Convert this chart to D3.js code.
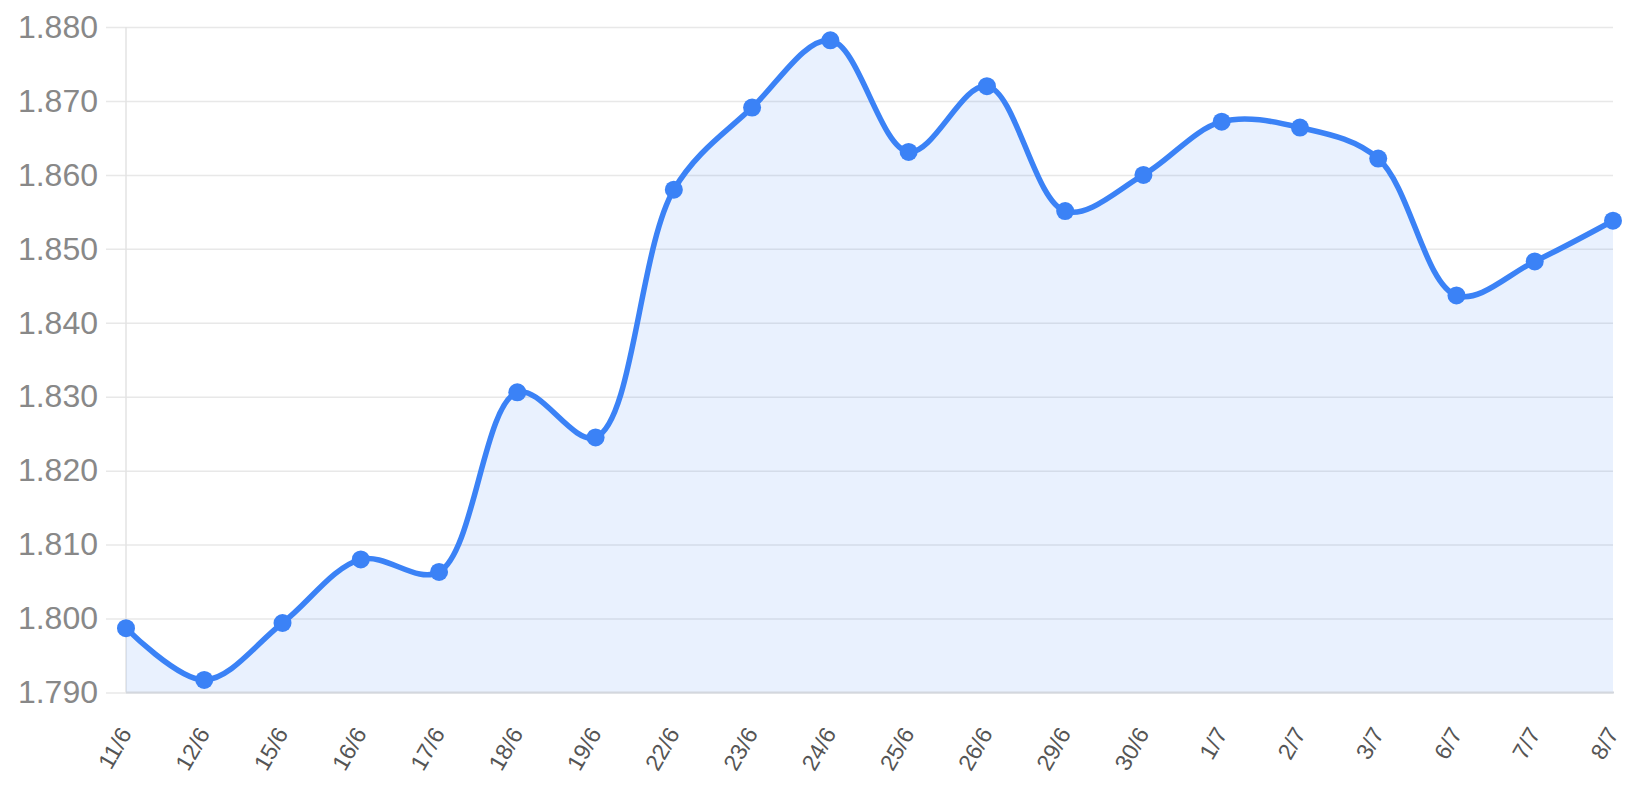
<!DOCTYPE html>
<html>
<head>
<meta charset="utf-8">
<script src="https://cdn.jsdelivr.net/npm/d3@7"></script>
<style>
  html, body { margin: 0; padding: 0; background: #fff; }
  svg { display: block; font-family: "Liberation Sans", Arial, sans-serif; }
</style>
</head>
<body>
<svg id="chart" width="1650" height="800"></svg>
<script>
const categories = ["11/6","12/6","15/6","16/6","17/6","18/6","19/6","22/6","23/6","24/6",
                    "25/6","26/6","29/6","30/6","1/7","2/7","3/7","6/7","7/7","8/7"];
const values = [1.7987,1.7917,1.7994,1.8080,1.8063,1.8306,1.8245,1.8580,1.8691,1.8782,
                1.8631,1.8720,1.8551,1.8600,1.8672,1.8664,1.8622,1.8437,1.8483,1.8538];
const yTicks = [1.790,1.800,1.810,1.820,1.830,1.840,1.850,1.860,1.870,1.880];

const svg = d3.select("#chart");
const x = d3.scalePoint().domain(categories).range([126, 1613]);
const y = d3.scaleLinear().domain([1.790, 1.880]).range([692.5, 27]);

// grid + y axis
const yAxis = d3.axisLeft(y).tickValues(yTicks).tickFormat(d3.format(".3f"))
  .tickSize(1613 - 106).tickPadding(8);
const gy = svg.append("g").attr("transform", "translate(1613,0)").call(yAxis);
gy.select(".domain").remove();
gy.selectAll(".tick line").attr("stroke", "#e8e8e8").attr("stroke-width", 1.5);
gy.selectAll(".tick text").attr("fill", "#888").attr("font-size", 32)
  .attr("font-family", "Liberation Sans, Arial, sans-serif");

// left axis line
svg.append("line").attr("x1", 126).attr("x2", 126).attr("y1", y(1.880)).attr("y2", y(1.790))
  .attr("stroke", "#e3e3e3").attr("stroke-width", 1.5);

// area
const area = d3.area()
  .x((d, i) => x(categories[i]))
  .y0(y(1.790))
  .y1(d => y(d))
  .curve(d3.curveCatmullRom.alpha(0.5));
svg.append("path").datum(values).attr("d", area).attr("fill", "rgba(59,130,246,0.11)");

// bottom axis
const xAxis = d3.axisBottom(x).tickSize(0).tickPadding(0);
const gx = svg.append("g").attr("transform", `translate(0,${y(1.790)})`).call(xAxis);
gx.select(".domain").attr("stroke", "#d3d7de").attr("stroke-width", 2)
  .attr("d", `M126,0H1614`);
gx.selectAll(".tick text")
  .attr("fill", "#555").attr("font-size", 23)
  .attr("font-family", "Liberation Sans, Arial, sans-serif")
  .attr("text-anchor", "end")
  .attr("dy", "0.35em")
  .attr("y", 0)
  .attr("transform", "translate(-1,37) rotate(-60)");

// line
const line = d3.line()
  .x((d, i) => x(categories[i]))
  .y(d => y(d))
  .curve(d3.curveCatmullRom.alpha(0.5));
svg.append("path").datum(values).attr("d", line)
  .attr("fill", "none").attr("stroke", "#3b82f6").attr("stroke-width", 5.5)
  .attr("stroke-linejoin", "round");

// points
svg.append("g").selectAll("circle").data(values).join("circle")
  .attr("cx", (d, i) => x(categories[i]))
  .attr("cy", d => y(d))
  .attr("r", 9)
  .attr("fill", "#3b82f6");
</script>
</body>
</html>
